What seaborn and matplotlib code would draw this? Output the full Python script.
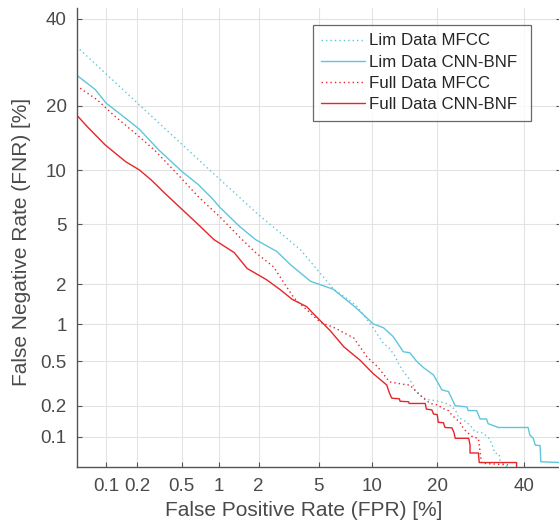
#!/usr/bin/env python3

# DET curves (FNR vs FPR on normal-deviate axes) for the four systems.

import math

import numpy as np
import matplotlib
matplotlib.use('Agg')
import matplotlib.pyplot as plt
import seaborn as sns

series_names = ['Lim Data MFCC', 'Lim Data CNN-BNF', 'Full Data MFCC', 'Full Data CNN-BNF']

lim_mfcc_fpr = [0.05, 0.74, 1.94, 3.83, 6.1, 8.2, 10.0, 11.33, 12.2, 12.97, 13.45, 14.17,
                14.95, 15.75, 16.0, 17.5, 18.35, 19.9, 22.2, 23.6, 24.3, 26.05, 27.4, 27.9,
                29.4, 31.0, 31.8, 32.6, 33.7, 33.9, 35.1, 35.8]
lim_mfcc_fnr = [33.0, 10.9, 5.8, 3.45, 1.85, 1.4, 0.96, 0.71, 0.64, 0.55, 0.48, 0.41,
                0.36, 0.31, 0.28, 0.236, 0.228, 0.222, 0.207, 0.184, 0.155, 0.14, 0.122, 0.112,
                0.111, 0.1, 0.087, 0.069, 0.067, 0.058, 0.052, 0.049]

lim_bnf_fpr = [0.05, 0.078, 0.1, 0.155, 0.21, 0.313, 0.5, 0.69, 0.9, 1.02, 1.45, 1.9,
               2.68, 3.3, 4.44, 6.1, 8.2, 10.1, 11.4, 12.7, 14.2, 15.2, 16.3, 17.5, 19.3,
               20.2, 20.9, 22.2, 23.6, 26.1, 26.4, 28.3, 29.1, 30.6, 31.0, 33.5, 41.1, 41.6,
               42.5, 43.0, 44.3, 44.5, 50.0]
lim_bnf_fnr = [26.3, 23.2, 20.5, 17.7, 15.8, 12.7, 9.9, 8.4, 7.0, 6.3, 4.83, 4.0,
               3.35, 2.74, 2.1, 1.84, 1.34, 1.01, 0.94, 0.8, 0.6, 0.59, 0.5, 0.44, 0.38,
               0.32, 0.28, 0.27, 0.2, 0.195, 0.18, 0.18, 0.15, 0.15, 0.135, 0.124, 0.124, 0.104,
               0.097, 0.083, 0.082, 0.056, 0.055]

full_mfcc_fpr = [0.05, 0.082, 0.123, 0.2, 0.29, 0.45, 0.69, 1.03, 1.45, 1.9, 2.54, 3.1,
                 3.5, 5.1, 6.1, 7.95, 9.4, 10.6, 12.2, 14.8, 15.2, 15.7, 16.9, 17.8, 18.7,
                 20.2, 20.9, 22.2, 22.9, 24.6, 25.3, 26.0, 27.4, 28.7, 28.9, 29.2, 29.5, 35.9]
full_mfcc_fnr = [24.0, 21.1, 18.0, 14.9, 12.6, 9.7, 7.2, 5.5, 4.15, 3.3, 2.65, 1.93,
                 1.58, 1.04, 0.95, 0.78, 0.54, 0.45, 0.33, 0.31, 0.31, 0.29, 0.25, 0.228, 0.21,
                 0.203, 0.19, 0.18, 0.163, 0.139, 0.122, 0.113, 0.1, 0.097, 0.083, 0.064, 0.054, 0.052]

full_bnf_fpr = [0.05, 0.066, 0.098, 0.155, 0.21, 0.27, 0.36, 0.71, 0.92, 1.32, 1.65, 2.28,
                2.8, 3.4, 4.2, 4.6, 5.85, 7.0, 8.6, 10.1, 11.8, 12.2, 12.5, 13.6, 13.7,
                15.0, 15.1, 17.8, 18.0, 19.0, 19.3, 20.0, 20.2, 21.2, 21.5, 22.9, 23.3, 23.6,
                26.5, 26.8, 26.8, 28.7, 28.9, 38.1, 38.1]
full_bnf_fnr = [18.3, 16.1, 13.4, 11.1, 10.05, 8.9, 7.5, 4.85, 4.0, 3.3, 2.58, 2.15,
                1.84, 1.55, 1.37, 1.22, 0.89, 0.66, 0.51, 0.39, 0.31, 0.26, 0.235, 0.232, 0.22,
                0.218, 0.21, 0.21, 0.186, 0.183, 0.167, 0.165, 0.139, 0.138, 0.124, 0.123, 0.112, 0.097,
                0.097, 0.083, 0.069, 0.069, 0.055, 0.055, 0.049]

tick_values = [0.1, 0.2, 0.5, 1, 2, 5, 10, 20, 40]
tick_labels = ['0.1', '0.2', '0.5', '1', '2', '5', '10', '20', '40']

CYAN = '#5ec6dc'
RED = '#e5262b'
DOTS = (0, (1, 2.2))

# Acklam's rational approximation of the inverse normal CDF (no scipy here).
_A = [-3.969683028665376e+01, 2.209460984245205e+02, -2.759285104469687e+02,
      1.383577518672690e+02, -3.066479806614716e+01, 2.506628277459239e+00]
_B = [-5.447609879822406e+01, 1.615858368580409e+02, -1.556989798598866e+02,
      6.680131188771972e+01, -1.328068155288572e+01]
_C = [-7.784894002430293e-03, -3.223964580411365e-01, -2.400758277161838e+00,
      -2.549732539343734e+00, 4.374664141464968e+00, 2.938163982698783e+00]
_D = [7.784695709041462e-03, 3.224671290700398e-01, 2.445134137142996e+00,
      3.754408661907416e+00]


def _tail(q):
    num = ((((_C[0] * q + _C[1]) * q + _C[2]) * q + _C[3]) * q + _C[4]) * q + _C[5]
    den = (((_D[0] * q + _D[1]) * q + _D[2]) * q + _D[3]) * q + 1
    return num / den


def percent_to_deviate(pct):
    p = np.clip(np.asarray(pct, dtype=float) / 100.0, 1e-9, 1 - 1e-9)
    q = p - 0.5
    r = q * q
    central = ((((((_A[0] * r + _A[1]) * r + _A[2]) * r + _A[3]) * r + _A[4]) * r + _A[5]) * q
               / (((((_B[0] * r + _B[1]) * r + _B[2]) * r + _B[3]) * r + _B[4]) * r + 1))
    low = _tail(np.sqrt(-2 * np.log(p)))
    high = -_tail(np.sqrt(-2 * np.log(1 - p)))
    return np.where(p < 0.02425, low, np.where(p > 1 - 0.02425, high, central))


_erf = np.vectorize(math.erf, otypes=[float])


def deviate_to_percent(z):
    z = np.asarray(z, dtype=float)
    return 100.0 * 0.5 * (1 + _erf(z / math.sqrt(2)))


def plot_det():
    sns.set_theme(style='whitegrid')
    plt.rcParams['font.family'] = ['Liberation Sans', 'DejaVu Sans']

    fig = plt.figure(figsize=(5.59, 5.22), dpi=100)
    ax = fig.add_axes([76.5 / 559, 1 - 466.5 / 522, 484.7 / 559, 458.5 / 522])
    ax.set_xscale('function', functions=(percent_to_deviate, deviate_to_percent))
    ax.set_yscale('function', functions=(percent_to_deviate, deviate_to_percent))

    curves = [
        (lim_mfcc_fpr, lim_mfcc_fnr, CYAN, DOTS),
        (lim_bnf_fpr, lim_bnf_fnr, CYAN, '-'),
        (full_mfcc_fpr, full_mfcc_fnr, RED, DOTS),
        (full_bnf_fpr, full_bnf_fnr, RED, '-'),
    ]
    for name, (fpr, fnr, color, ls) in zip(series_names, curves):
        sns.lineplot(x=fpr, y=fnr, ax=ax, color=color, linestyle=ls,
                     linewidth=1.0, sort=False, estimator=None, label=name)

    ax.set_xlim(0.05, 50)
    ax.set_ylim(0.05, 42.9)
    ax.set_xticks(tick_values)
    ax.set_xticklabels(tick_labels)
    ax.set_yticks(tick_values)
    ax.set_yticklabels(tick_labels)
    ax.minorticks_off()

    ax.set_facecolor('white')
    ax.grid(True, color='#e3e3e3', linewidth=0.8)
    for side in ['top', 'right']:
        ax.spines[side].set_visible(False)
    for side in ['left', 'bottom']:
        ax.spines[side].set_color('#555555')
        ax.spines[side].set_linewidth(1.0)
    ax.tick_params(axis='both', direction='in', length=3.5, width=0.8,
                   color='#555555', labelsize=13.5, labelcolor='#4a4a4a')
    ax.tick_params(axis='x', bottom=True, pad=8)
    ax.tick_params(axis='y', right=True, left=True, pad=7)

    ax.set_xlabel('False Positive Rate (FPR) [%]', fontsize=15, color='#4a4a4a')
    ax.set_ylabel('False Negative Rate (FNR) [%]', fontsize=15, color='#4a4a4a')
    ax.xaxis.set_label_coords((303.5 - 76.5) / 484.7, -0.076)
    ax.yaxis.set_label_coords(-0.094, 0.49)

    # MATLAB-style legend box: wider than its text, so stretch it to a fixed width.
    left = (313 - 76.5) / 484.7
    top = (466.5 - 25) / 458.5
    width = 218 / 484.7
    leg = ax.legend(loc='upper left', bbox_to_anchor=(left, top - 0.2, width, 0.2),
                    mode='expand', borderaxespad=0, fontsize=12.2, frameon=True,
                    fancybox=False, handlelength=2.55, handletextpad=0.25,
                    labelspacing=0.37, borderpad=0.5)
    leg.get_frame().set_edgecolor('#444444')
    leg.get_frame().set_linewidth(0.9)
    for text in leg.get_texts():
        text.set_color('#262626')
    return fig


def main():
    fig = plot_det()
    fig.savefig('out.png', dpi=100)


if __name__ == '__main__':
    main()
